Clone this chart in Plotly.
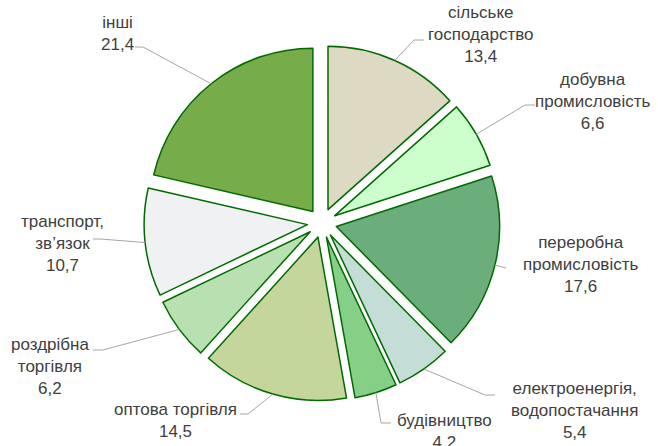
import math
import plotly.graph_objects as go

# структура ВДВ за видами діяльності, %
categories = ["сільське<br>господарство", "добувна<br>промисловість", "переробна<br>промисловість",
              "електроенергія,<br>водопостачання", "будівництво", "оптова торгівля",
              "роздрібна<br>торгівля", "транспорт,<br>зв’язок", "інші"]
values = [13.4, 6.6, 17.6, 5.4, 4.2, 14.5, 6.2, 10.7, 21.4]
colors = ["#DDD9C3", "#CCFFCC", "#6BAE7B", "#C4DDD6", "#86CF86",
          "#C4D69B", "#B8E0B1", "#F0F1F3", "#76AC4A"]

W, H = 658, 446
CX, CY, R = 322, 223, 178  # центр і зовнішній радіус круга, px
PULL = 0.09

# де стоять підписи (центр блоку тексту) і куди йде виносна лінія
label_pos = [(480, 34), (592, 101), (580, 264), (574, 410), (444, 431),
             (175, 420), (50, 366), (62, 243), (117, 33)]
leader_pts = [[(424, 40), (414, 40)], [(535, 105), (525, 105)], [(506, 268)],
              [(495, 395), (485, 395)], [(391, 423), (381, 423)],
              [(240, 414), (248, 414)], [(93, 350), (103, 350)],
              [(93, 239), (100, 239)], [(135, 47), (143, 47)]]

fig = go.Figure()
fig.add_trace(go.Pie(
    labels=categories, values=values, sort=False, direction="clockwise", rotation=0,
    pull=PULL, textinfo="none", hoverinfo="label+value", showlegend=False,
    marker=dict(colors=colors, line=dict(color="#006A00", width=1.5)),
    domain=dict(x=[(CX - R) / W, (CX + R) / W], y=[(H - CY - R) / H, (H - CY + R) / H]),
))

total = sum(values)
cum = 0
shapes = []
annotations = []
for name, v, (lx, ly), pts in zip(categories, values, label_pos, leader_pts):
    mid = (cum + v / 2) / total * 2 * math.pi
    cum += v
    ax, ay = CX + R * math.sin(mid), CY - R * math.cos(mid)
    path_pts = pts + [(ax, ay)]
    path = "M " + " L ".join(f"{x:.1f},{y:.1f}" for x, y in path_pts)
    shapes.append(dict(type="path", path=path, xref="x", yref="y",
                       line=dict(color="#A6A6A6", width=1), layer="above"))
    annotations.append(dict(x=lx, y=ly, xref="x", yref="y", showarrow=False,
                            text=f"{name}<br>{str(v).replace('.', ',')}",
                            xanchor="center", yanchor="middle", align="center",
                            font=dict(family="Liberation Sans, Arial", size=17, color="#404040")))

fig.update_layout(
    width=W, height=H, margin=dict(l=0, r=0, t=0, b=0),
    paper_bgcolor="white", plot_bgcolor="white",
    xaxis=dict(range=[0, W], visible=False, fixedrange=True),
    yaxis=dict(range=[H, 0], visible=False, fixedrange=True),
    shapes=shapes, annotations=annotations,
)

# прибрати стандартний відступ body, щоб графік став у кут сторінки
fig.write_html("out.html", config={"displayModeBar": False},
               post_script="document.body.style.margin='0';")
